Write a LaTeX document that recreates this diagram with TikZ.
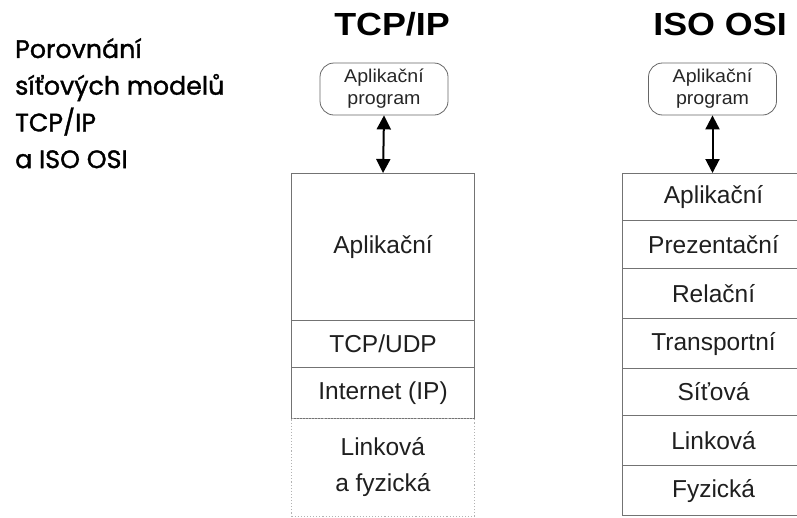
\documentclass[tikz,border=0pt]{standalone}
\usepackage{fontspec}
\setmainfont{Liberation Sans}
\newfontfamily\popfont{Poppins}[FakeBold=1.3]
\newfontfamily\stretchfont{Liberation Sans}[FakeStretch=1.12]
\newfontfamily\progfont{Liberation Sans}[FakeStretch=1.06]
\usetikzlibrary{arrows.meta}
\begin{document}
\begin{tikzpicture}[x=1pt,y=-1pt,
  layer/.style={draw=black!55,line width=1.1pt,minimum width=183pt,inner sep=0pt,font=\fontsize{24.5}{28}\selectfont,text=black!88,anchor=north west},
  osilayer/.style={layer,minimum width=182pt},
  prog/.style={draw=black!60,line width=0.8pt,rounded corners=14pt,minimum width=128pt,minimum height=52pt,inner sep=0pt,align=center,font=\progfont\fontsize{18.5}{22}\selectfont,text=black!85},
  title/.style={font=\stretchfont\fontsize{32}{34}\selectfont\bfseries,anchor=base},
  link/.style={line width=2pt,{Triangle[width=14pt,length=14pt]}-{Triangle[width=14pt,length=14pt]}}
]
\useasboundingbox (0,0) rectangle (797,517);
\begin{scope}
\clip (0,0) rectangle (797,517);
\node[anchor=north west,align=left,font=\popfont\fontsize{25.3}{36.7}\selectfont,inner sep=0pt] (desc) at (15,38)
  {Porovnání\\síťových modelů\\TCP/IP\\a ISO OSI};
\node[title] (t1) at (392,35) {TCP/IP};
\node[title] (t2) at (720,35) {ISO OSI};
% TCP/IP
\node[prog] (p1) at (384,89) {Aplikační\\program};
\node[layer,minimum height=147pt] (a1) at (291,173) {Aplikační};
\node[layer,minimum height=47pt] (a2) at (291,320) {TCP/UDP};
\node[layer,minimum height=51pt] (a3) at (291,367) {Internet (IP)};
\node[layer,draw=black!30,dotted,line width=0.8pt,minimum height=98pt,align=center] (a4) at (291,418) {Linková\\[8pt]a fyzická};
\draw[link] (p1.south) -- (a1.north);
% OSI
\node[prog] (p2) at (712.5,89) {Aplikační\\program};
\node[osilayer,minimum height=47pt] (o1) at (622,173) {Aplikační};
\node[osilayer,minimum height=48pt] (o2) at (622,220) {Prezentační};
\node[osilayer,minimum height=50pt] (o3) at (622,268) {Relační};
\node[osilayer,minimum height=50pt] (o4) at (622,318) {Transportní};
\node[osilayer,minimum height=47pt] (o5) at (622,368) {Síťová};
\node[osilayer,minimum height=50pt] (o6) at (622,415) {Linková};
\node[osilayer,minimum height=50pt] (o7) at (622,465) {Fyzická};
\draw[link] (p2.south) -- (p2.south |- o1.north);
\end{scope}
\end{tikzpicture}
\end{document}
